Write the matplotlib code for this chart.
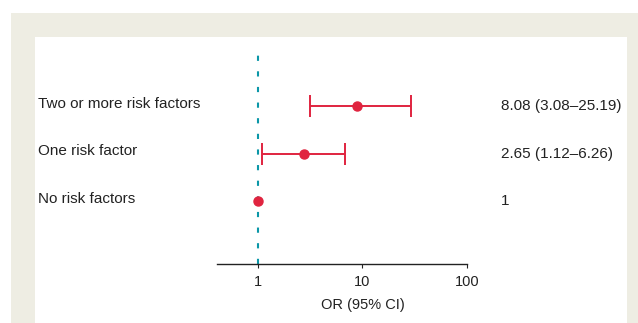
import numpy as np
import matplotlib.pyplot as plt
from matplotlib.patches import Rectangle
from matplotlib.transforms import blended_transform_factory

# data (marker positions, labels as printed)
groups = ["Two or more risk factors", "One risk factor", "No risk factors"]
or_est = [8.9, 2.76, 1.0]
ci_low = [3.17, 1.09, None]
ci_high = [29.5, 6.86, None]
or_text = ["8.08 (3.08\u201325.19)", "2.65 (1.12\u20136.26)", "1"]
rows = [3, 2, 1]
xticks = [1, 10, 100]

plt.rcParams['font.family'] = ['Liberation Sans', 'DejaVu Sans']
red = '#e0243f'
teal = '#0b97a8'
txt = '#222222'

W, H = 638, 323
fig = plt.figure(figsize=(W / 100, H / 100), dpi=100)
fig.patch.set_facecolor('white')

# beige frame and white panel (pixel coords from top-left)
def px_rect(x0, y0, x1, y1, color):
    fig.patches.append(Rectangle((x0 / W, 1 - y1 / H), (x1 - x0) / W, (y1 - y0) / H,
                                 transform=fig.transFigure, facecolor=color,
                                 edgecolor='none', zorder=-10))

px_rect(11, 13, 638, 323, '#eeede3')
px_rect(35, 37, 627, 323, 'white')

ax_l, ax_r, ax_t, ax_b = 216.7, 466.7, 53, 264
ax = fig.add_axes([ax_l / W, 1 - ax_b / H, (ax_r - ax_l) / W, (ax_b - ax_t) / H])
ax.patch.set_alpha(0)

ax.set_xscale('log')
ax.set_xlim(0.4, 100)
ax.set_ylim(-0.33, 4.12)

ax.axvline(1, color=teal, lw=1.5, ls=(0, (2.5, 5)), zorder=1)

for y, est, lo, hi in zip(rows, or_est, ci_low, ci_high):
    if lo is not None:
        ax.errorbar(est, y, xerr=[[est - lo], [hi - est]], fmt='none',
                    ecolor=red, elinewidth=1.4, capsize=8, capthick=1.4, zorder=2)
    ax.plot(est, y, 'o', color=red, ms=6.5, zorder=3)

for s in ['top', 'right', 'left']:
    ax.spines[s].set_visible(False)
ax.spines['bottom'].set_color(txt)
ax.spines['bottom'].set_linewidth(1.0)
ax.set_yticks([])
ax.set_xticks(xticks)
ax.set_xticklabels([str(t) for t in xticks])
ax.xaxis.set_minor_locator(plt.NullLocator())
ax.tick_params(axis='x', direction='out', length=3, width=0.8, color=txt,
               labelsize=10.5, labelcolor=txt, pad=5)

# axis title sits under the "10" tick
ax.text(10, -0.33 - 0.72, "OR (95% CI)", transform=ax.transData,
        ha='center', va='top', fontsize=10.5, color=txt, clip_on=False)

tr = blended_transform_factory(ax.transAxes, ax.transData)
for y, g, t in zip(rows, groups, or_text):
    ax.text((38 - ax_l) / (ax_r - ax_l), y + 0.05, g, transform=tr, ha='left', va='center',
            fontsize=11, color=txt, clip_on=False)
    ax.text((501 - ax_l) / (ax_r - ax_l), y, t, transform=tr, ha='left', va='center',
            fontsize=11, color=txt, clip_on=False)

fig.savefig('out.png', dpi=100)
